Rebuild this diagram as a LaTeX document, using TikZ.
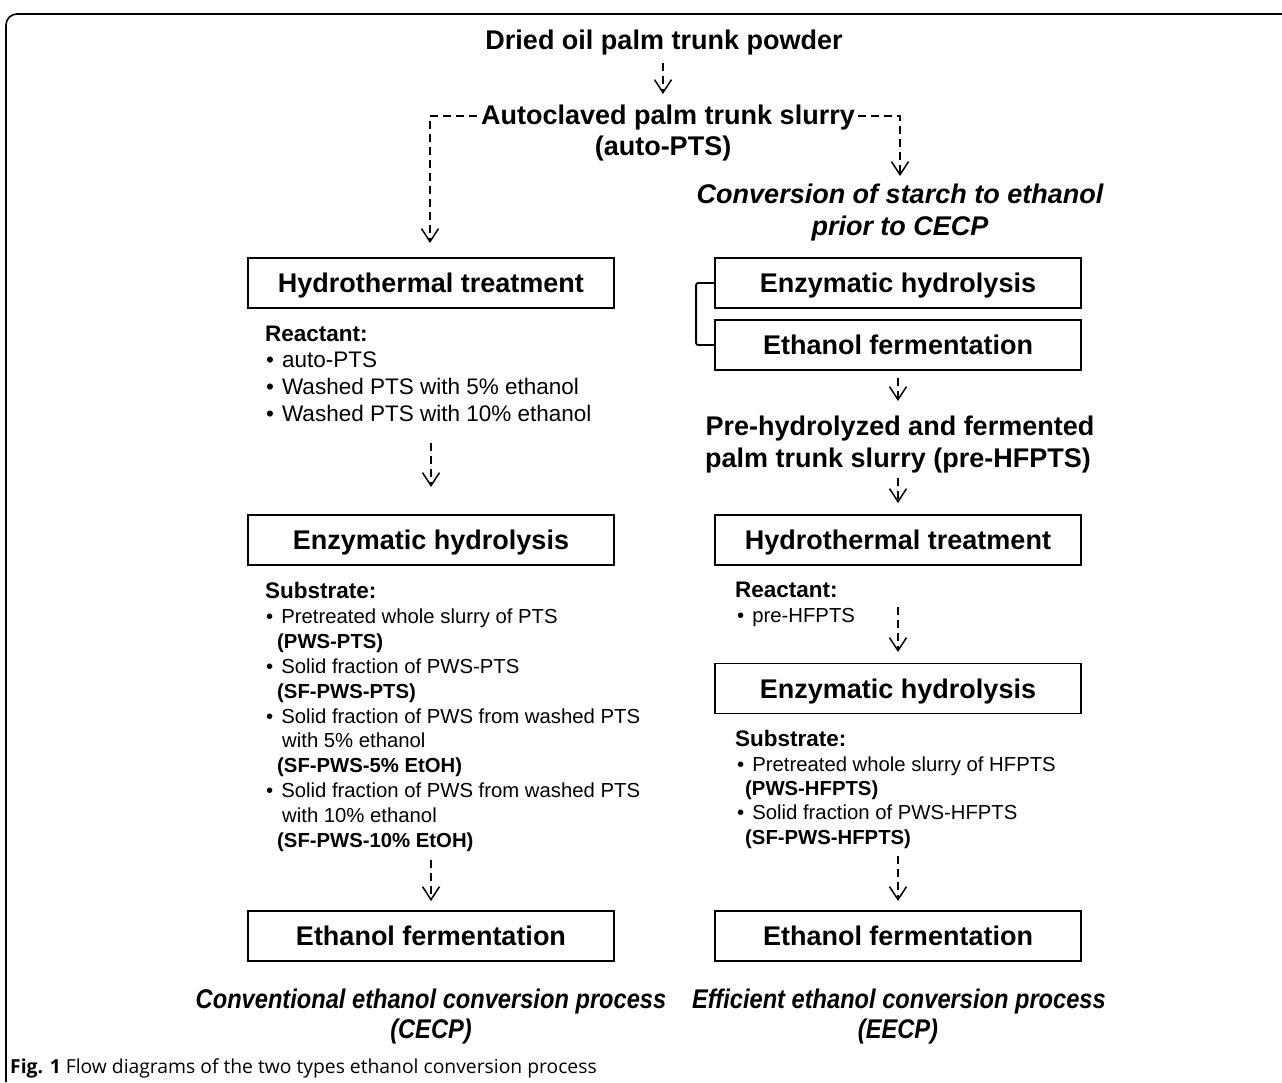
\documentclass[tikz,border=0pt]{standalone}
\usepackage{fontspec}
\setmainfont{Liberation Sans}
\newfontfamily\capfont{Open Sans}
\usetikzlibrary{arrows.meta}
\newcommand{\bul}{•\hspace{8pt}}
\newcommand{\narrowit}[1]{\scalebox{0.876}[1]{#1}}
\tikzset{
  ttl/.style={font=\fontsize{27}{32}\selectfont\bfseries, inner sep=0, anchor=base},
  ittl/.style={font=\fontsize{27}{32}\selectfont\bfseries\itshape, inner sep=0, anchor=base},
  body/.style={font=\fontsize{22.5}{25}\selectfont, inner sep=0, anchor=base west},
  sbody/.style={font=\fontsize{20.3}{24}\selectfont, inner sep=0, anchor=base west},
  procbox/.style={draw, line width=1.8pt, minimum width=366pt, minimum height=50pt, inner sep=0,
    text height=19.3pt, text depth=0pt, font=\fontsize{27}{32}\selectfont\bfseries},
  dflow/.style={line width=1.5pt, dash pattern=on 8pt off 5pt, -{Straight Barb[length=13pt,width=17pt,line width=1.5pt]}},
  brk/.style={line width=1.8pt, rounded corners=2pt}
}
\begin{document}
\begin{tikzpicture}[x=1pt,y=-1pt]
\useasboundingbox (0,0) rectangle (1282,1082);
% frame
\draw[line width=1.6pt, rounded corners=11pt] (6,1082) -- (6,14) -- (1282,14);

% top
\node[ttl] (dried) at (664,49) {Dried oil palm trunk powder};
\coordinate (a1s) at (663,63); \coordinate (a1e) at (663,94);
\draw[dflow] (a1s) -- (a1e);
\node[ttl] (auto) at (668,124) {Autoclaved palm trunk slurry};
\node[ttl] (autob) at (663,155) {(auto-PTS)};
\coordinate (lbs) at (477,116); \coordinate (lbe) at (430,243);
\coordinate (rbs) at (858,116); \coordinate (rbe) at (900,176);
\draw[dflow] (lbs) -| (lbe);
\draw[dflow] (rbs) -| (rbe);

% left column
\node[procbox] (lh) at (431,283) {Hydrothermal treatment};
\node[body] (lr0) at (265,341) {\bfseries Reactant:};
\node[body] (lr1) at (266,367) {\bul auto-PTS};
\node[body] (lr2) at (266,394) {\bul Washed PTS with 5\% ethanol};
\node[body] (lr3) at (266,421) {\bul Washed PTS with 10\% ethanol};
\coordinate (a2s) at (431,443); \coordinate (a2e) at (431,487);
\draw[dflow] (a2s) -- (a2e);
\node[procbox] (le) at (431,540) {Enzymatic hydrolysis};
\node[body] (ls0) at (265,598) {\bfseries Substrate:};
\node[sbody] (ls1) at (266,623) {\bul Pretreated whole slurry of PTS};
\node[sbody] (ls2) at (277,648) {\bfseries (PWS-PTS)};
\node[sbody] (ls3) at (266,673) {\bul Solid fraction of PWS-PTS};
\node[sbody] (ls4) at (277,698) {\bfseries (SF-PWS-PTS)};
\node[sbody] (ls5) at (266,723) {\bul Solid fraction of PWS from washed PTS};
\node[sbody] (ls6) at (282,747) {with 5\% ethanol};
\node[sbody] (ls7) at (277,772) {\bfseries (SF-PWS-5\% EtOH)};
\node[sbody] (ls8) at (266,797) {\bul Solid fraction of PWS from washed PTS};
\node[sbody] (ls9) at (282,822) {with 10\% ethanol};
\node[sbody] (ls10) at (277,847) {\bfseries (SF-PWS-10\% EtOH)};
\coordinate (a3s) at (431,860); \coordinate (a3e) at (431,901);
\draw[dflow] (a3s) -- (a3e);
\node[procbox] (lf) at (431,936) {Ethanol fermentation};
\node[ittl] (lc1) at (431,1008) {\narrowit{Conventional ethanol conversion process}};
\node[ittl] (lc2) at (431,1038) {\narrowit{(CECP)}};

% right column
\node[ittl] (conv1) at (900,203) {Conversion of starch to ethanol};
\node[ittl] (conv2) at (900,235) {prior to CECP};
\node[procbox] (re1) at (898,283) {Enzymatic hydrolysis};
\node[procbox] (rf1) at (898,345) {Ethanol fermentation};
\draw[brk] (re1.west) -- ++(-18,0) |- (rf1.west);
\coordinate (b1s) at (898,378); \coordinate (b1e) at (898,401);
\draw[dflow] (b1s) -- (b1e);
\node[ttl] (pre1) at (900,435) {Pre-hydrolyzed and fermented};
\node[ttl] (pre2) at (898,467) {palm trunk slurry (pre-HFPTS)};
\coordinate (b2s) at (898,478); \coordinate (b2e) at (898,503);
\draw[dflow] (b2s) -- (b2e);
\node[procbox] (rh) at (898,540) {Hydrothermal treatment};
\node[body] (rr0) at (735,597) {\bfseries Reactant:};
\node[sbody] (rr1) at (737,622) {\bul pre-HFPTS};
\coordinate (b3s) at (898,607); \coordinate (b3e) at (898,652);
\draw[dflow] (b3s) -- (b3e);
\node[procbox] (re2) at (898,688.5) {Enzymatic hydrolysis};
\node[body] (rs0) at (735,746) {\bfseries Substrate:};
\node[sbody] (rs1) at (737,771) {\bul Pretreated whole slurry of HFPTS};
\node[sbody] (rs2) at (745,795) {\bfseries (PWS-HFPTS)};
\node[sbody] (rs3) at (737,819) {\bul Solid fraction of PWS-HFPTS};
\node[sbody] (rs4) at (745,844) {\bfseries (SF-PWS-HFPTS)};
\coordinate (b4s) at (898,856); \coordinate (b4e) at (898,901);
\draw[dflow] (b4s) -- (b4e);
\node[procbox] (rf2) at (898,936) {Ethanol fermentation};
\node[ittl] (rc1) at (899,1008) {\narrowit{Efficient ethanol conversion process}};
\node[ittl] (rc2) at (898,1038) {\narrowit{(EECP)}};

% caption
\node[font=\capfont\fontsize{19.3}{22}\selectfont, inner sep=0, anchor=base west] (cap) at (10,1073)
  {{\bfseries Fig. 1} Flow diagrams of the two types ethanol conversion process};
\end{tikzpicture}
\end{document}
